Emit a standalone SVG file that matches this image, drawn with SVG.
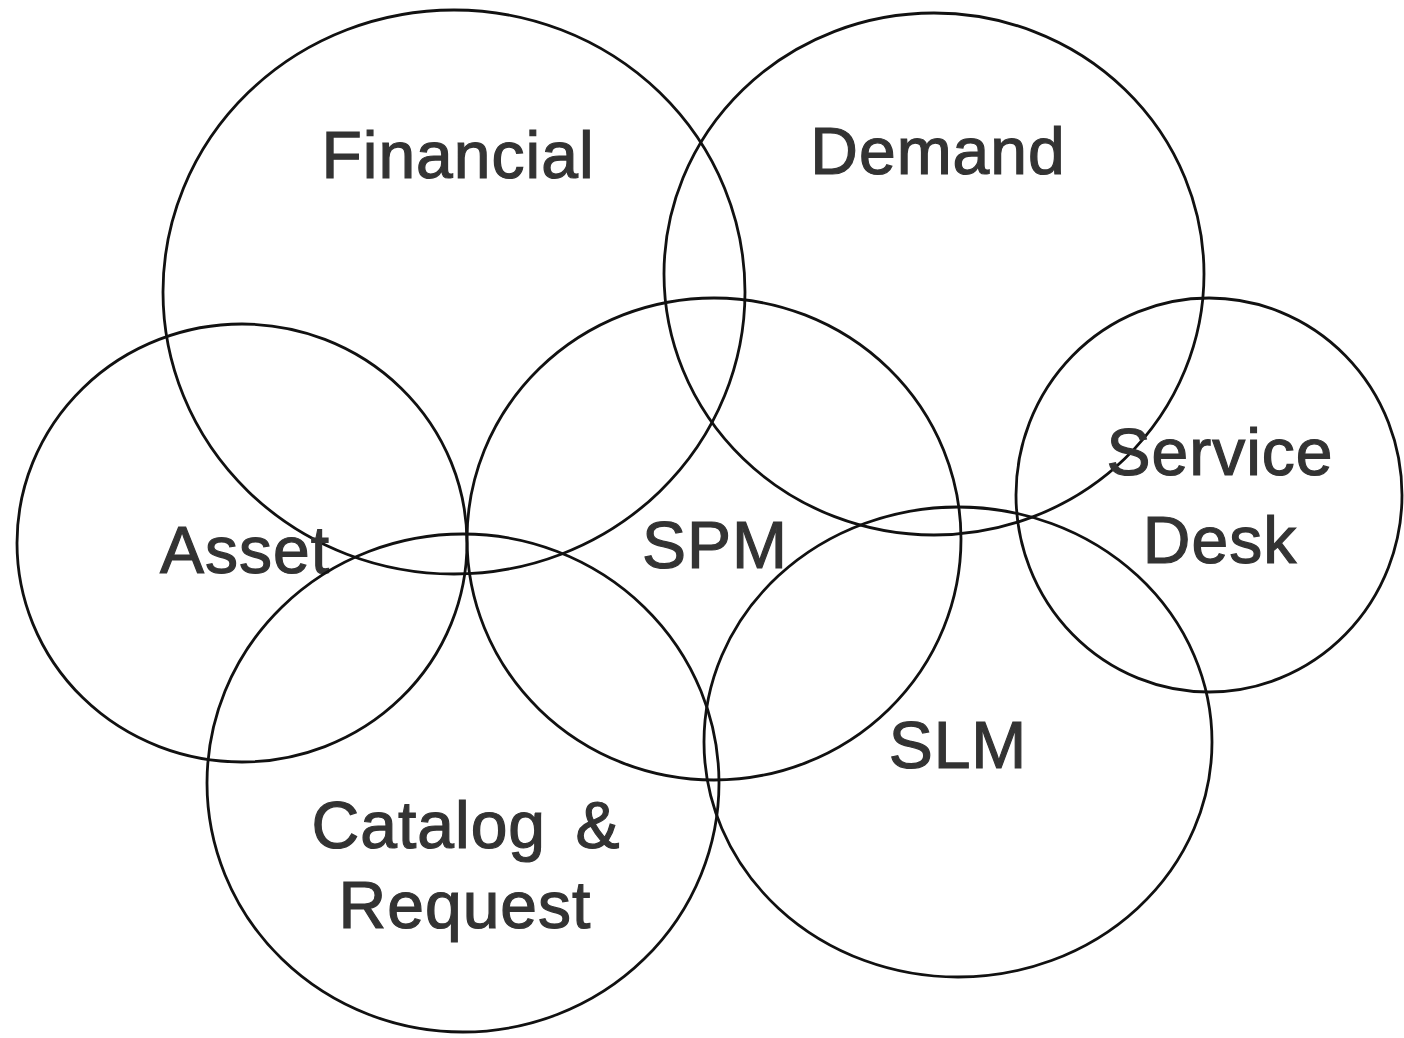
<svg xmlns="http://www.w3.org/2000/svg" width="1404" height="1038" viewBox="0 0 1404 1038">
  <style>
    .ring { fill: none; stroke: #111; stroke-width: 2.8; }
    .label { font-family: "Liberation Sans", Arial, sans-serif; font-size: 66px; fill: #333; stroke: #333; stroke-width: 1.2; text-anchor: middle; letter-spacing: 1px; }
  </style>
  <rect width="1404" height="1038" fill="#fff"/>

  <g id="financial">
    <ellipse class="ring" cx="454" cy="292" rx="291" ry="282"/>
    <text class="label" x="458" y="178">Financial</text>
  </g>

  <g id="demand">
    <ellipse class="ring" cx="934" cy="274" rx="270" ry="261"/>
    <text class="label" x="938" y="174">Demand</text>
  </g>

  <g id="asset">
    <ellipse class="ring" cx="242" cy="543" rx="225" ry="219"/>
    <text class="label" x="245" y="573">Asset</text>
  </g>

  <g id="spm">
    <ellipse class="ring" cx="714" cy="539" rx="247" ry="241"/>
    <text class="label" x="715" y="568">SPM</text>
  </g>

  <g id="catalog-request">
    <ellipse class="ring" cx="463" cy="783" rx="256" ry="249"/>
    <text class="label" x="466" y="848" word-spacing="10">Catalog &amp;</text>
    <text class="label" x="465" y="928">Request</text>
  </g>

  <g id="slm">
    <ellipse class="ring" cx="958" cy="742" rx="254" ry="235"/>
    <text class="label" x="958" y="768">SLM</text>
  </g>

  <g id="service-desk">
    <ellipse class="ring" cx="1209" cy="495" rx="193" ry="197"/>
    <text class="label" x="1220" y="475">Service</text>
    <text class="label" x="1220" y="563">Desk</text>
  </g>

  <g id="connectors"/>
</svg>
